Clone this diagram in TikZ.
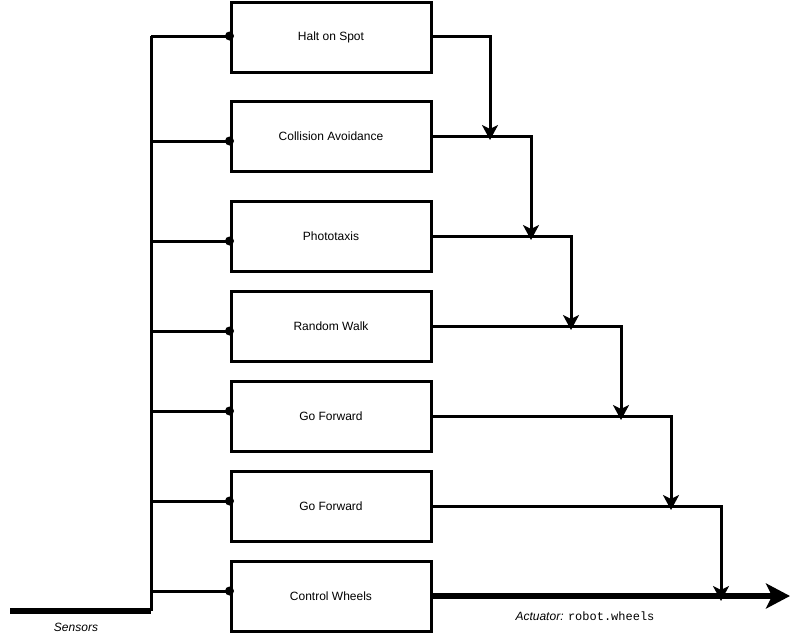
\documentclass[tikz,border=0pt]{standalone}
\usepackage{fontspec}
\setmainfont{Liberation Sans}
\setmonofont{Liberation Mono}
\usetikzlibrary{arrows.meta,calc}
\begin{document}
\begin{tikzpicture}[x=1pt,y=-1pt,
  box/.style={draw,line width=3pt,minimum width=200pt,minimum height=70pt,inner sep=0pt,font=\fontsize{12}{14}\selectfont},
  wire/.style={line width=3pt},
  heavy/.style={line width=5.5pt},
  arr/.style={wire,-{Stealth[length=15pt,width=16pt,inset=4pt]}},
  bigarr/.style={heavy,-{Stealth[length=24pt,width=25pt,inset=6pt]}},
  lbl/.style={font=\fontsize{12}{14}\selectfont\itshape,inner sep=0pt},
  dotc/.style={fill=black}
]
\useasboundingbox (0,0) rectangle (801,643);

\node[box] (b1) at (331,37)  {Halt on Spot};
\node[box] (b2) at (331,136) {Collision Avoidance};
\node[box] (b3) at (331,236) {Phototaxis};
\node[box] (b4) at (331,326) {Random Walk};
\node[box] (b5) at (331,416) {Go Forward};
\node[box] (b6) at (331,506) {Go Forward};
\node[box] (b7) at (331,596) {Control Wheels};

% sensor bus
\coordinate (sens) at (10,611);
\coordinate (bustop) at (151,36);
\coordinate (busbot) at (151,611);
\draw[heavy] (sens) -- (busbot);
\draw[wire] (bustop) -- (busbot);

\coordinate (p1) at ($(b1.west)+(0,-1)$);
\coordinate (p2) at ($(b2.west)+(0,5)$);
\coordinate (p3) at ($(b3.west)+(0,5)$);
\coordinate (p4) at ($(b4.west)+(0,5)$);
\coordinate (p5) at ($(b5.west)+(0,-5)$);
\coordinate (p6) at ($(b6.west)+(0,-5)$);
\coordinate (p7) at ($(b7.west)+(0,-5)$);
\foreach \i in {1,...,7}{
  \draw[wire] (p\i -| bustop) -- (p\i);
}
\foreach \i in {1,...,7}{
  \fill[dotc] (p\i) circle (4.5pt);
}

% outputs
\coordinate (j1) at (490,140);
\coordinate (j2) at (531,240);
\coordinate (j3) at (571,330);
\coordinate (j4) at (621,420);
\coordinate (j5) at (671,510);
\coordinate (j6) at (721,601);
\draw[arr] (b1.east) ++(0,-1) -| (j1);
\draw[arr] (b2.east) -| (j2);
\draw[arr] (b3.east) -| (j3);
\draw[arr] (b4.east) -| (j4);
\draw[arr] (b5.east) -| (j5);
\draw[arr] (b6.east) -| (j6);
\coordinate (act) at (790,596);
\draw[bigarr] (b7.east) -- (act);

\node[lbl] (sl) at (76,627) {Sensors};
\node[lbl] (al) at (585,616) {Actuator: \upshape\ttfamily robot.wheels};
\end{tikzpicture}
\end{document}
